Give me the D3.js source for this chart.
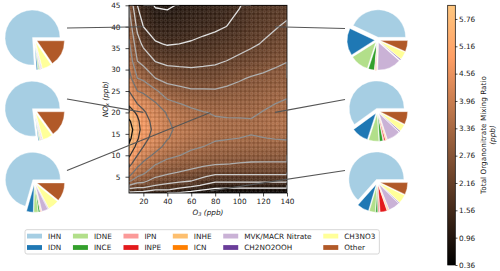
<!DOCTYPE html>
<html><head><meta charset="utf-8">
<script src="https://cdn.jsdelivr.net/npm/d3@7"></script>
<style>body{margin:0;background:#fff} svg{display:block} text{font-family:"DejaVu Sans",sans-serif;fill:#1a1a1a}</style>
</head><body><svg id="c" width="500" height="271"></svg>
<script>
// ---------------- data ----------------
const o3Grid = [8, 15, 20, 30, 40, 50, 60, 70, 80, 90, 100, 110, 120, 130, 140];
const noxGrid = [1.2, 2, 3, 4, 5, 6, 8, 10, 12, 14, 16, 18, 20, 22, 25, 28, 32, 36, 40, 45];
// one row per O3 value, values along noxGrid (ppb)
const organonitrate = [
  [1.40,2.00,2.76,3.46,3.96,4.26,4.75,5.26,5.66,5.93,6.04,5.85,5.46,5.07,4.56,4.20,3.78,3.45,3.12,2.73],
  [1.35,1.90,2.50,2.96,3.36,3.66,4.16,4.56,4.96,5.25,5.40,5.30,5.05,4.56,3.96,3.36,2.76,2.39,2.02,1.56],
  [1.30,1.90,2.50,2.90,3.20,3.46,3.86,4.21,4.56,4.75,4.88,4.80,4.65,4.39,3.86,3.24,2.56,2.04,1.56,1.25],
  [1.15,1.60,2.16,2.50,2.80,3.00,3.40,3.85,4.15,4.33,4.40,4.35,4.20,4.03,3.46,2.76,2.14,1.62,1.27,0.92],
  [1.05,1.60,2.03,2.36,2.65,2.85,3.18,3.50,3.81,3.99,4.05,4.00,3.92,3.55,3.02,2.57,2.01,1.52,1.26,0.88],
  [0.90,1.40,1.88,2.26,2.52,2.74,3.07,3.37,3.62,3.79,3.86,3.80,3.66,3.38,2.92,2.50,1.99,1.56,1.30,1.00],
  [0.75,1.20,1.73,2.16,2.40,2.64,2.96,3.24,3.44,3.60,3.70,3.62,3.48,3.25,2.82,2.45,1.98,1.60,1.38,1.10],
  [0.62,1.00,1.50,1.90,2.20,2.46,2.88,3.15,3.36,3.50,3.56,3.50,3.38,3.18,2.82,2.46,2.02,1.67,1.43,1.18],
  [0.50,0.83,1.26,1.67,2.02,2.30,2.80,3.06,3.29,3.40,3.45,3.41,3.32,3.12,2.81,2.47,2.07,1.75,1.48,1.28],
  [0.48,0.82,1.26,1.67,2.02,2.31,2.77,3.03,3.26,3.38,3.44,3.40,3.30,3.13,2.87,2.58,2.17,1.83,1.57,1.37],
  [0.46,0.81,1.26,1.67,2.02,2.31,2.73,3.00,3.23,3.36,3.43,3.40,3.29,3.15,2.93,2.70,2.30,1.93,1.70,1.53],
  [0.45,0.80,1.26,1.67,2.02,2.32,2.70,2.98,3.20,3.33,3.41,3.39,3.28,3.16,2.98,2.80,2.40,2.07,1.90,1.70],
  [0.45,0.80,1.26,1.67,2.02,2.32,2.70,2.97,3.20,3.35,3.45,3.47,3.38,3.27,3.07,2.87,2.51,2.20,2.00,1.78],
  [0.45,0.80,1.26,1.67,2.02,2.32,2.70,2.96,3.19,3.38,3.50,3.55,3.47,3.36,3.16,2.95,2.63,2.33,2.12,1.86],
  [0.45,0.80,1.26,1.67,2.02,2.32,2.70,2.95,3.18,3.41,3.55,3.62,3.55,3.44,3.24,3.02,2.74,2.46,2.25,1.95]
];
const colorMin = 0.36, colorMax = 6.06;
const colorTicks = [0.36, 0.96, 1.56, 2.16, 2.76, 3.36, 3.96, 4.56, 5.16, 5.76];
const lineLevels = [0.96, 1.56, 2.16, 2.76, 3.36, 3.96, 4.56, 5.16, 5.76];
const xTicks = [20, 40, 60, 80, 100, 120, 140];
const yTicks = [5, 10, 15, 20, 25, 30, 35, 40, 45];

const species = ["IHN","IDN","IDNE","INCE","IPN","INPE","INHE","ICN","MVK/MACR Nitrate","CH2NO2OOH","CH3NO3","Other"];
const speciesColors = ["#a6cee3","#1f78b4","#b2df8a","#33a02c","#fb9a99","#e31a1c","#fdbf6f","#ff7f00","#cab2d6","#6a3d9a","#ffff99","#b15928"];
const pieO3 = [20, 20, 76, 130, 130, 76];
const pieNOx = [40, 20, 20, 40, 20, 1.7];
const pieSide = ["left","left","left","right","right","right"];
const pieShares = [
  [76, 0.8, 0.7, 0.4, 0.1, 0.2, 0.1, 0.1, 0.5, 0.1, 5.5, 15.5],
  [77, 0.5, 0.5, 0.3, 0.1, 0.2, 0.1, 0.1, 0.4, 0.1, 5.7, 15.0],
  [71, 4.0, 2.5, 1.0, 0.2, 0.3, 0.2, 0.1, 3.6, 0.2, 6.5, 11.0],
  [43, 16, 11, 3.5, 0.2, 0.3, 0.3, 0.2, 14, 0.5, 4.5, 6.5],
  [60, 10, 6, 2, 0.5, 0.8, 0.5, 0.2, 8, 0.5, 4, 7.5],
  [63, 7, 3.5, 1.2, 1, 4, 0.5, 0.3, 6.5, 0.3, 5, 7]
];

// ---------------- layout ----------------
const svg = d3.select("#c");
const FS = 7.3;
const P = {x0:129, x1:287, y0:5.3, y1:193};
const x = d3.scaleLinear().domain([8,140]).range([P.x0,P.x1]);
const y = d3.scaleLinear().domain([1.2,45]).range([P.y1,P.y0]);

function copper(v){
  const t = Math.max(0, Math.min(1, (v-colorMin)/(colorMax-colorMin)));
  return d3.rgb(Math.min(1,1.25*t)*255, 0.7812*t*255, 0.4975*t*255).toString();
}
function idxMap(grid){
  return p => { const t=p-0.5; if(t<=0) return grid[0]; if(t>=grid.length-1) return grid[grid.length-1];
    const i=Math.floor(t), f=t-i; return grid[i]+(grid[i+1]-grid[i])*f; };
}
const nx=o3Grid.length, ny=noxGrid.length;
const values = new Array(nx*ny);
for(let j=0;j<ny;j++) for(let i=0;i<nx;i++) values[j*nx+i]=organonitrate[i][j];
const mx=idxMap(o3Grid), my=idxMap(noxGrid);
const proj = d3.geoTransform({point(px,py){ this.stream.point(x(mx(px)), y(my(py))); }});
const gpath = d3.geoPath(proj);

const defs = svg.append("defs");
defs.append("clipPath").attr("id","pc").append("rect")
  .attr("x",P.x0).attr("y",P.y0).attr("width",P.x1-P.x0).attr("height",P.y1-P.y0);
const pat = defs.append("pattern").attr("id","tex").attr("patternUnits","userSpaceOnUse")
  .attr("width",4.3).attr("height",4.3).attr("x",P.x0).attr("y",P.y0);
pat.append("rect").attr("width",4.3).attr("height",4.3).attr("fill","none")
  .attr("stroke","rgba(0,0,0,0.22)").attr("stroke-width",0.7);
pat.append("rect").attr("x",0.9).attr("y",0.9).attr("width",2.5).attr("height",2.5).attr("rx",0.9)
  .attr("fill","none").attr("stroke","rgba(255,255,255,0.22)").attr("stroke-width",0.6);

const gPlot = svg.append("g").attr("clip-path","url(#pc)");
gPlot.append("rect").attr("x",P.x0).attr("y",P.y0).attr("width",P.x1-P.x0).attr("height",P.y1-P.y0)
  .attr("fill",copper(colorMin));
const step=0.04;
const fillLevels = d3.range(colorMin+step, colorMax, step);
const bands = d3.contours().size([nx,ny]).thresholds(fillLevels)(values);
gPlot.selectAll("path.band").data(bands).join("path").attr("class","band")
  .attr("d",gpath).attr("fill",d=>copper(d.value+step/2)).attr("stroke",d=>copper(d.value+step/2)).attr("stroke-width",0.3);
gPlot.append("rect").attr("x",P.x0).attr("y",P.y0).attr("width",P.x1-P.x0).attr("height",P.y1-P.y0)
  .attr("fill","url(#tex)");

// contour lines (without grid boundary edges)
const lines = d3.contours().size([nx,ny]).thresholds(lineLevels)(values);
const onB = (a,b) => (a[0]===0&&b[0]===0)||(a[0]===nx&&b[0]===nx)||(a[1]===0&&b[1]===0)||(a[1]===ny&&b[1]===ny);
const lineGen = d3.line().x(p=>x(mx(p[0]))).y(p=>y(my(p[1])));
lines.forEach(c=>{
  const col = d3.interpolateGreys((c.value-colorMin)/(colorMax-colorMin));
  c.coordinates.forEach(poly=>poly.forEach(ring=>{
    let cur=[]; const segs=[];
    for(let k=0;k<ring.length-1;k++){
      const a=ring[k], b=ring[k+1];
      if(onB(a,b)){ if(cur.length>1) segs.push(cur); cur=[]; }
      else { if(!cur.length) cur.push(a); cur.push(b); }
    }
    if(cur.length>1) segs.push(cur);
    segs.forEach(s=>gPlot.append("path").attr("d",lineGen(s)).attr("fill","none")
      .attr("stroke",col).attr("stroke-width",1.3).attr("stroke-linejoin","round"));
  }));
});

svg.append("rect").attr("x",P.x0).attr("y",P.y0).attr("width",P.x1-P.x0).attr("height",P.y1-P.y0)
  .attr("fill","none").attr("stroke","#000").attr("stroke-width",0.8);

// axes
const ax = svg.append("g").attr("transform",`translate(0,${P.y1})`)
  .call(d3.axisBottom(x).tickValues(xTicks).tickSize(3.5).tickPadding(2.3).tickFormat(d3.format("d")));
const ay = svg.append("g").attr("transform",`translate(${P.x0},0)`)
  .call(d3.axisLeft(y).tickValues(yTicks).tickSize(3.5).tickPadding(5).tickFormat(d3.format("d")));
[ax,ay].forEach(g=>{ g.select(".domain").remove(); g.selectAll("text").attr("font-size",FS).attr("font-family","DejaVu Sans").attr("fill","#1a1a1a");
  g.selectAll("line").attr("stroke","#000").attr("stroke-width",0.7); });

const xl = svg.append("text").attr("x",(P.x0+P.x1)/2).attr("y",214.5).attr("text-anchor","middle")
  .attr("font-size",FS).attr("font-style","italic");
xl.append("tspan").text("O");
xl.append("tspan").attr("font-size",FS*0.7).attr("dy",1.5).text("3");
xl.append("tspan").attr("dy",-1.5).text(" (ppb)");
const yl = svg.append("text").attr("transform",`translate(107.6,${(P.y0+P.y1)/2}) rotate(-90)`)
  .attr("text-anchor","middle").attr("font-size",FS).attr("font-style","italic");
yl.append("tspan").text("NO");
yl.append("tspan").attr("font-size",FS*0.7).attr("dy",1.5).text("x");
yl.append("tspan").attr("dy",-1.5).text(" (ppb)");

// colorbar
const CB = {x0:447.7, x1:455.3, y0:5.3, y1:265};
const grad = defs.append("linearGradient").attr("id","cg").attr("x1",0).attr("y1",1).attr("x2",0).attr("y2",0);
d3.range(0,1.0001,0.05).forEach(t=>grad.append("stop").attr("offset",t).attr("stop-color",copper(colorMin+t*(colorMax-colorMin))));
svg.append("rect").attr("x",CB.x0).attr("y",CB.y0).attr("width",CB.x1-CB.x0).attr("height",CB.y1-CB.y0)
  .attr("fill","url(#cg)").attr("stroke","#000").attr("stroke-width",0.7);
const cs = d3.scaleLinear().domain([colorMin,colorMax]).range([CB.y1,CB.y0]);
const ac = svg.append("g").attr("transform",`translate(${CB.x1},0)`)
  .call(d3.axisRight(cs).tickValues(colorTicks).tickSize(2.2).tickPadding(1.5).tickFormat(d3.format(".2f")));
ac.select(".domain").remove();
ac.selectAll("text").attr("font-size",FS).attr("font-family","DejaVu Sans").attr("fill","#1a1a1a");
ac.selectAll("line").attr("stroke","#000").attr("stroke-width",0.7);
svg.append("text").attr("transform",`translate(486,135) rotate(-90)`).attr("text-anchor","middle")
  .attr("font-size",FS).text("Total Organonitrate Mixing Ratio");
svg.append("text").attr("transform",`translate(495,135) rotate(-90)`).attr("text-anchor","middle")
  .attr("font-size",FS).attr("font-style","italic").text("(ppb)");

// pies
const R = 27.5;
const pieCenters = {left:[34.5,[39.5,110.5,182]], right:[377.5,[40,111,182]]};
const pieGen = d3.pie().sort(null).value(d=>d).startAngle(Math.PI/2).endAngle(Math.PI/2-2*Math.PI);
const arc = d3.arc().innerRadius(0).outerRadius(R);
const gLines = svg.append("g"), gPies = svg.append("g");
pieShares.forEach((sh,k)=>{
  const side = pieSide[k];
  const idx = pieSide.slice(0,k).filter(s=>s===side).length;
  const cx = pieCenters[side][0], cy = pieCenters[side][1][idx];
  const g = gPies.append("g").attr("transform",`translate(${cx},${cy})`);
  pieGen(sh).forEach((w,i)=>{
    const a=(w.startAngle+w.endAngle)/2, d=0.1*R;
    g.append("path").attr("d",arc(w)).attr("fill",speciesColors[i])
      .attr("transform",`translate(${Math.sin(a)*d},${-Math.cos(a)*d})`)
      .attr("stroke","#fff").attr("stroke-width",0.4);
  });
  const ax0 = side==="left" ? cx+32.5 : cx-32.5;
  gLines.append("line").attr("x1",ax0).attr("y1",cy-11.5).attr("x2",x(pieO3[k])).attr("y2",y(pieNOx[k]))
    .attr("stroke","#555").attr("stroke-width",1.2);
});

// legend
const L = {x:25, y:229.7, h:24.3};
const gLeg = svg.append("g");
const box = gLeg.append("rect").attr("x",L.x).attr("y",L.y).attr("height",L.h).attr("rx",2)
  .attr("fill","#fff").attr("stroke","#cccccc").attr("stroke-width",0.8);
let colX = L.x+2;
const rowsY = [236, 247.4];
for(let c=0;c<6;c++){
  let maxW=0;
  for(let r=0;r<2;r++){
    const i=c*2+r;
    gLeg.append("rect").attr("x",colX).attr("y",rowsY[r]-2.3).attr("width",15).attr("height",4.8)
      .attr("fill",speciesColors[i]);
    const t=gLeg.append("text").attr("x",colX+21).attr("y",rowsY[r]).attr("dy","0.35em")
      .attr("font-size",FS).text(species[i]);
    maxW=Math.max(maxW,t.node().getComputedTextLength());
  }
  if(c<5) colX += 21+maxW+11.7; else box.attr("width", colX+21+maxW+4-L.x);
}
</script></body></html>
